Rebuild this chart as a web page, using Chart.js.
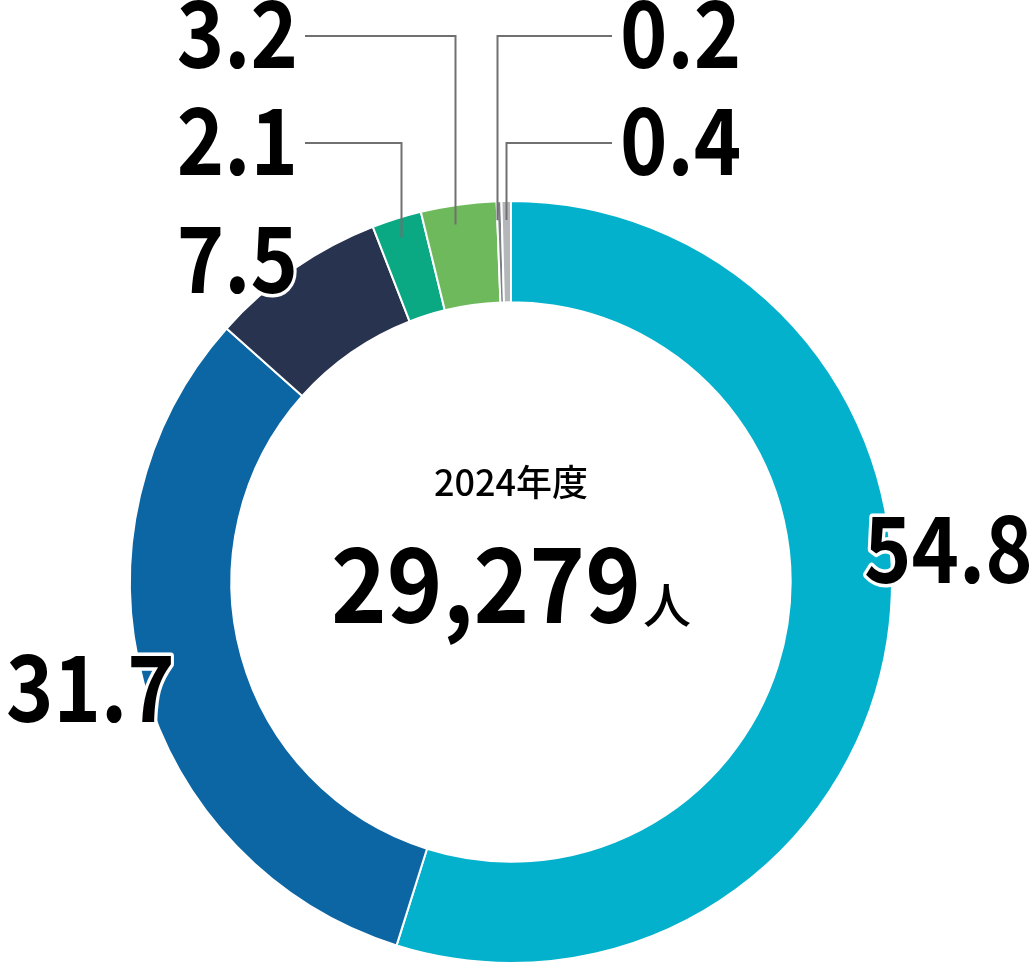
<!DOCTYPE html>
<html>
<head>
<meta charset="utf-8">
<script src="https://cdn.jsdelivr.net/npm/chart.js@4.4.1/dist/chart.umd.min.js"></script>
<style>
  html, body { margin: 0; padding: 0; background: #fff; }
  #wrap { position: relative; width: 1032px; height: 968px; }
</style>
</head>
<body>
<div id="wrap"><canvas id="c" width="1032" height="968"></canvas></div>
<script>
// Share of each group (%), clockwise from 12 o'clock
const categories = ['54.8', '31.7', '7.5', '2.1', '3.2', '0.2', '0.4'];
const shares = [54.8, 31.7, 7.5, 2.1, 3.2, 0.2, 0.4];
const sliceColors = ['#04b1cc', '#0c66a3', '#28334f', '#0aa883', '#6fb95d', '#7a7e85', '#b3b7ba'];

// Center caption
const yearLabel = '2024年度';
const totalLabel = '29,279';
const unitLabel = '人';

// Where each value label sits: text anchor, alignment, and optional leader line
// (at = position along the slice where the leader line lands, 0..1)
const labelLayout = [
  { x: 864, y: 583, align: 'left' },
  { x: 6,   y: 722, align: 'left' },
  { x: 298, y: 293, align: 'right' },
  { x: 298, y: 175, align: 'right', lineY: 143, lineX: 305, at: 0.47 },
  { x: 298, y: 68,  align: 'right', lineY: 36,  lineX: 305, at: 0.41 },
  { x: 620, y: 68,  align: 'left',  lineY: 36,  lineX: 612, at: 0.0 },
  { x: 620, y: 175, align: 'left',  lineY: 143, lineX: 612, at: 0.5 }
];

const LABEL_FONT = 'bold 92px "Noto Sans CJK JP"';
const LABEL_SCALE_X = 0.875;

const labelPlugin = {
  id: 'valueLabels',
  afterDraw(chart) {
    const ctx = chart.ctx;
    const meta = chart.getDatasetMeta(0);
    ctx.save();

    // leader lines from the slice body to the label
    meta.data.forEach((arc, i) => {
      const lay = labelLayout[i];
      if (lay.lineY === undefined) return;
      const p = arc.getProps(['x', 'y', 'startAngle', 'endAngle', 'innerRadius', 'outerRadius'], true);
      const a = p.startAngle + (p.endAngle - p.startAngle) * lay.at;
      const r = p.outerRadius * 0.95;
      const ax = Math.round(p.x + Math.cos(a) * r) + 0.5;
      const ay = p.y + Math.sin(a) * r;
      ctx.beginPath();
      ctx.strokeStyle = '#707070';
      ctx.lineWidth = 2;
      ctx.moveTo(lay.lineX, lay.lineY);
      ctx.lineTo(ax, lay.lineY);
      ctx.lineTo(ax, ay);
      ctx.stroke();
    });

    // value labels with white halo
    ctx.font = LABEL_FONT;
    ctx.textBaseline = 'alphabetic';
    ctx.lineJoin = 'round';
    categories.forEach((txt, i) => {
      const lay = labelLayout[i];
      ctx.save();
      ctx.translate(lay.x, lay.y);
      ctx.scale(LABEL_SCALE_X, 1);
      ctx.textAlign = lay.align;
      ctx.strokeStyle = '#ffffff';
      ctx.lineWidth = 7;
      ctx.strokeText(txt, 0, 0);
      ctx.fillStyle = '#000000';
      ctx.fillText(txt, 0, 0);
      ctx.restore();
    });

    // center caption
    const cx = meta.data[0].x;
    ctx.fillStyle = '#000';
    ctx.textAlign = 'center';
    ctx.font = '500 36px "Noto Sans CJK JP"';
    ctx.fillText(yearLabel, cx, 496);

    const numScale = 0.91;
    ctx.font = 'bold 104px "Noto Sans CJK JP"';
    const wNum = ctx.measureText(totalLabel).width * numScale;
    ctx.font = '500 48px "Noto Sans CJK JP"';
    const wUnit = ctx.measureText(unitLabel).width;
    const gap = 2;
    const left = cx - (wNum + gap + wUnit) / 2;
    ctx.textAlign = 'left';
    ctx.save();
    ctx.translate(left, 623);
    ctx.scale(numScale, 1);
    ctx.font = 'bold 104px "Noto Sans CJK JP"';
    ctx.fillText(totalLabel, 0, 0);
    ctx.restore();
    ctx.font = '500 48px "Noto Sans CJK JP"';
    ctx.fillText(unitLabel, left + wNum + gap, 623);

    ctx.restore();
  }
};

new Chart(document.getElementById('c'), {
  type: 'doughnut',
  data: {
    labels: categories,
    datasets: [{
      data: shares,
      backgroundColor: sliceColors,
      borderColor: '#ffffff',
      borderWidth: 2
    }]
  },
  options: {
    responsive: false,
    animation: false,
    cutout: '73.4%',
    layout: { padding: { left: 129, right: 139, top: 200, bottom: 4 } },
    plugins: {
      legend: { display: false },
      tooltip: { enabled: false }
    }
  },
  plugins: [labelPlugin]
});
</script>
</body>
</html>
